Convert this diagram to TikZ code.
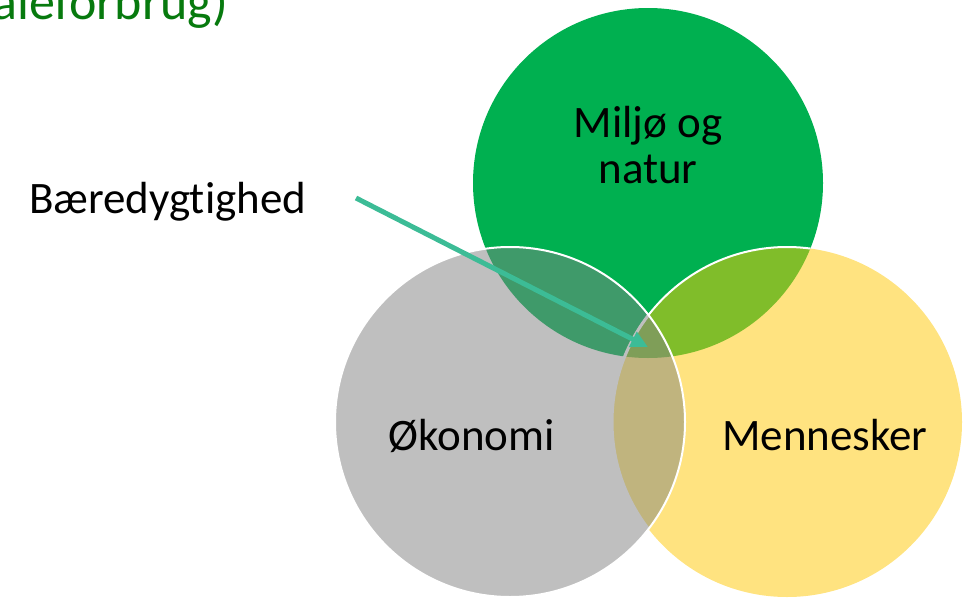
\documentclass[tikz,border=0pt]{standalone}
\usepackage{fontspec}
\setmainfont{Carlito}[Ligatures=NoCommon]
\usetikzlibrary{arrows.meta}

\definecolor{miljo}{HTML}{00B050}
\definecolor{okono}{HTML}{BFBFBF}
\definecolor{menne}{HTML}{FFE380}
\definecolor{miljookono}{HTML}{3F9A6A}
\definecolor{miljomenne}{HTML}{80BD2A}
\definecolor{okonomenne}{HTML}{C0B47E}
\definecolor{alle}{HTML}{7F9E58}
\definecolor{pilfarve}{HTML}{3CBC96}
\definecolor{titelgron}{HTML}{077A0E}

\tikzset{
  etikette/.style={font=\fontsize{45}{46}\selectfont, inner sep=0pt, align=center},
  pil/.style={pilfarve, line width=5pt, -{Triangle[length=17pt,width=16pt]}},
  kant/.style={white, line width=2pt}
}

\begin{document}
\begin{tikzpicture}[x=1pt,y=-1pt]
	\useasboundingbox (0,0) rectangle (963,597);

	\coordinate (gron) at (648,183);
	\coordinate (graa) at (510,422);
	\coordinate (gul) at (787,422);
	\def\rad{175pt}

	% cirkler
	\fill[miljo] (gron) circle[radius=\rad];
	\fill[okono] (graa) circle[radius=\rad];
	\fill[menne] (gul) circle[radius=\rad];

	% overlap
	\begin{scope}
		\clip (gron) circle[radius=\rad];
		\fill[miljookono] (graa) circle[radius=\rad];
		\fill[miljomenne] (gul) circle[radius=\rad];
	\end{scope}
	\begin{scope}
		\clip (graa) circle[radius=\rad];
		\fill[okonomenne] (gul) circle[radius=\rad];
		\clip (gron) circle[radius=\rad];
		\fill[alle] (gul) circle[radius=\rad];
	\end{scope}

	% kanter
	\begin{scope}
		\clip (gron) circle[radius=\rad];
		\draw[kant] (gul) circle[radius=\rad];
	\end{scope}
	\begin{scope}
		\clip (graa) circle[radius=\rad];
		\draw[okono, line width=3pt] (gul) circle[radius=\rad];
	\end{scope}
	\draw[kant] (graa) circle[radius=\rad];

	% tekst
	\node[etikette, font=\fontsize{52}{54}\selectfont, text=titelgron, anchor=base east] (titel) at (228,19) {aleforbrug)};
	\node[etikette, anchor=base] (miljotxt) at (648,183) {Miljø og\\natur};
	\node[etikette, anchor=base] (okonotxt) at (471.5,450) {Økonomi};
	\node[etikette, anchor=base] (mennetxt) at (825,450) {Mennesker};
	\node[etikette, anchor=base west] (baer) at (29,213) {Bæredygtighed};

	\coordinate (pilstart) at (356,198);
	\coordinate (kerne) at (648,347);
	\draw[pil] (pilstart) -- (kerne);
\end{tikzpicture}
\end{document}
